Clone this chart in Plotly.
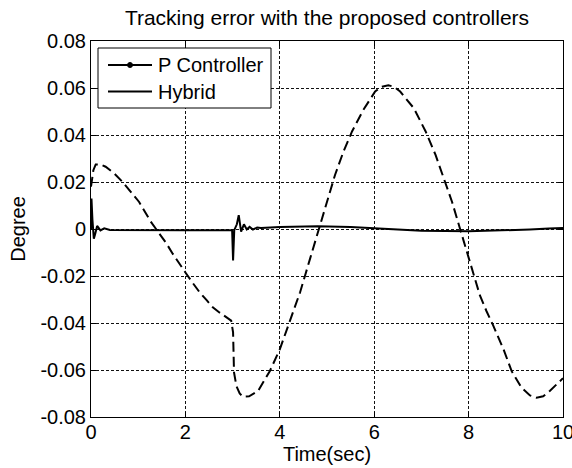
import plotly.graph_objects as go

# ---- data ----
p_t = [0.00, 0.05, 0.10, 0.20, 0.31, 0.50, 0.67, 0.88, 1.02, 1.27, 1.43, 1.60, 1.73, 1.84,
       2.00, 2.15, 2.30, 2.45, 2.58, 2.70, 2.83, 2.97, 3.01, 3.03, 3.08, 3.15, 3.22, 3.35,
       3.54, 3.79, 4.00, 4.18, 4.43, 4.64, 4.81, 4.96, 5.17, 5.35, 5.53, 5.77, 6.02, 6.15,
       6.30, 6.42, 6.55, 6.84, 7.09, 7.30, 7.47, 7.65, 7.82, 7.96, 8.10, 8.24, 8.38, 8.52,
       8.74, 8.91, 9.12, 9.30, 9.44, 9.58, 9.72, 9.85, 10.0]
p_y = [0.018, 0.025, 0.0275, 0.0275, 0.0265, 0.0235, 0.0200, 0.0151, 0.0115, 0.0030, -0.0013,
       -0.0062, -0.0105, -0.0140, -0.0185, -0.0228, -0.0269, -0.0303, -0.0333, -0.0352,
       -0.0369, -0.0390, -0.0440, -0.0610, -0.0668, -0.0700, -0.0714, -0.0712, -0.0689,
       -0.0604, -0.0512, -0.0412, -0.0269, -0.0127, -0.0013, 0.0087, 0.0230, 0.0330,
       0.0415, 0.0507, 0.0585, 0.0605, 0.0612, 0.0605, 0.0585, 0.0514, 0.0415, 0.0315,
       0.0215, 0.0115, 0.0000, -0.0098, -0.0190, -0.0283, -0.0350, -0.0410, -0.0512,
       -0.0604, -0.0675, -0.0708, -0.0718, -0.0712, -0.0689, -0.0665, -0.0635]

h_t = [0.00, 0.01, 0.03, 0.06, 0.09, 0.13, 0.20, 0.28, 0.40, 1.00, 2.00, 2.99, 3.01, 3.035,
       3.09, 3.13, 3.18, 3.24, 3.30, 3.36, 3.43, 3.52, 3.60, 4.00, 4.80, 5.50, 6.00, 6.50,
       7.00, 8.00, 8.80, 9.30, 9.70, 10.0]
h_y = [0.0, 0.013, 0.004, -0.0041, -0.0020, 0.0013, -0.0006, 0.0003, -0.0004, -0.0005,
       -0.0005, -0.0005, -0.0134, -0.0005, 0.0020, 0.0059, -0.0011, 0.0020, -0.0002, 0.0009,
       -0.0002, 0.0006, 0.0004, 0.0008, 0.0012, 0.0009, 0.0003, -0.0003, -0.0007, -0.0010,
       -0.0006, -0.0002, 0.0002, 0.0004]

x_ticks = [0, 2, 4, 6, 8, 10]
x_ticktext = ["0", "2", "4", "6", "8", "10"]
y_ticks = [0.08, 0.06, 0.04, 0.02, 0, -0.02, -0.04, -0.06, -0.08]
y_ticktext = ["0.08", "0.06", "0.04", "0.02", "0", "-0.02", "-0.04", "-0.06", "-0.08"]
series_names = ["P Controller", "Hybrid"]

FONT = "Liberation Sans, Arial, sans-serif"
FS = 20

fig = go.Figure()
fig.add_trace(go.Scatter(x=p_t, y=p_y, mode="lines", name=series_names[0], showlegend=False,
                         line=dict(color="black", width=2, dash="10px,5px")))
fig.add_trace(go.Scatter(x=h_t, y=h_y, mode="lines", name=series_names[1], showlegend=False,
                         line=dict(color="black", width=2)))

# plot area geometry (px)
L, R, T, B = 91, 563, 41, 417
W, H = R - L, B - T


def px(x):
    return (x - L) / W


def py(y):
    return (B - y) / H


shapes = [
    dict(type="rect", xref="paper", yref="paper", x0=px(98), x1=px(271), y0=py(108), y1=py(48),
         line=dict(color="black", width=1), fillcolor="white", layer="above"),
    dict(type="line", xref="paper", yref="paper", x0=px(108), x1=px(152), y0=py(65), y1=py(65),
         line=dict(color="black", width=2), layer="above"),
    dict(type="circle", xref="paper", yref="paper", x0=px(127.5), x1=px(132.5), y0=py(67.5), y1=py(62.5),
         line=dict(color="black", width=1), fillcolor="black", layer="above"),
    dict(type="line", xref="paper", yref="paper", x0=px(108), x1=px(152), y0=py(91.5), y1=py(91.5),
         line=dict(color="black", width=2), layer="above"),
]
annotations = [
    dict(xref="paper", yref="paper", x=px(156), y=py(65), text=series_names[0], showarrow=False,
         xanchor="left", yanchor="middle", font=dict(family=FONT, size=FS, color="black")),
    dict(xref="paper", yref="paper", x=px(156), y=py(91.5), text=series_names[1], showarrow=False,
         xanchor="left", yanchor="middle", font=dict(family=FONT, size=FS, color="black")),
]

axis_common = dict(showline=True, linecolor="black", linewidth=1, mirror="ticks",
                   ticks="inside", ticklen=5, tickcolor="black", showgrid=True,
                   gridcolor="#111111", griddash="3px,2px", gridwidth=1, zeroline=False,
                   ticklabeloverflow="allow",
                   tickfont=dict(family=FONT, size=FS, color="black"))

fig.update_layout(
    width=572, height=468,
    margin=dict(l=L, r=572 - R, t=T, b=468 - B, autoexpand=False),
    paper_bgcolor="white", plot_bgcolor="white",
    font=dict(family=FONT, color="black"),
    title=dict(text="Tracking error with the proposed controllers", x=(L + R) / 2 / 572,
               xanchor="center", y=1 - 18 / 468, yanchor="middle", yref="container",
               font=dict(family=FONT, size=21, color="black")),
    xaxis=dict(range=[0, 10], tickvals=x_ticks, ticktext=x_ticktext, ticklabelstandoff=-3,
               title=dict(text="Time(sec)", font=dict(family=FONT, size=FS, color="black"), standoff=0),
               **axis_common),
    yaxis=dict(range=[-0.08, 0.08], tickvals=y_ticks, ticktext=y_ticktext,
               title=dict(text="Degree", font=dict(family=FONT, size=FS, color="black"), standoff=9),
               **axis_common),
    shapes=shapes, annotations=annotations,
)

fig.write_html("out.html")
